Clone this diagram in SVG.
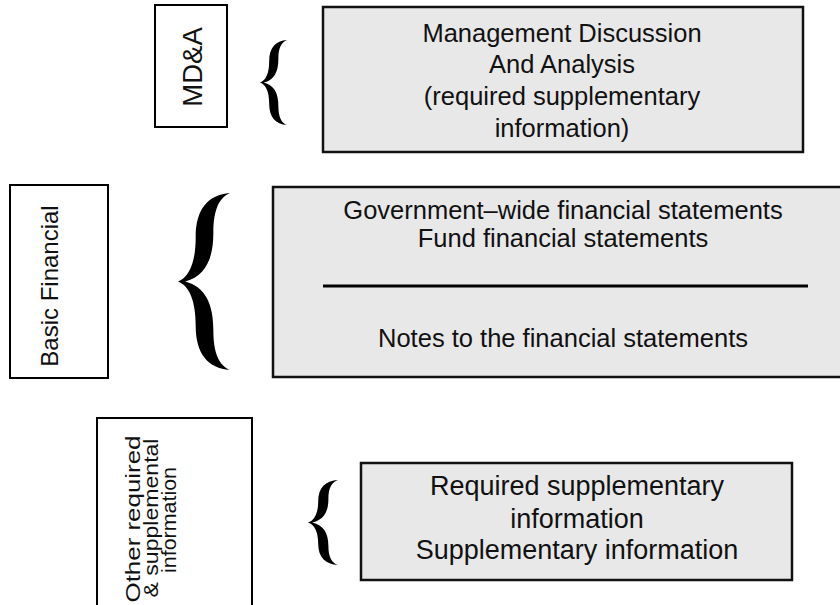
<svg xmlns="http://www.w3.org/2000/svg" width="840" height="605" viewBox="0 0 840 605">
<style>
.lbox{fill:#ffffff;stroke:#000;stroke-width:2}
.rbox{fill:#e8e8e8;stroke:#111;stroke-width:2.5}
.t{font-family:"Liberation Sans",Arial,sans-serif;fill:#111;text-anchor:middle}
.brace{fill:#000}
</style>
<defs>
<path id="br" d="M100,0 C58,2 34,18 34,50 C34,78 22,95 0,100 C22,105 34,122 34,150 C34,182 58,198 100,200 C80,195 68,182 68,155 C68,125 52,106 14,100 C52,94 68,75 68,45 C68,18 80,5 100,0 Z"/>
</defs>
<rect width="840" height="605" fill="#fff"/>
<g id="mda-label">
<rect class="lbox" x="155" y="5" width="72" height="122"/>
<text class="t" font-size="27.5" transform="translate(202,67) rotate(-90)">MD&amp;A</text>
</g>
<g id="mda-box">
<rect class="rbox" x="323" y="7" width="480" height="145"/>
<text class="t" font-size="25.5" x="562" y="42">Management Discussion</text>
<text class="t" font-size="25.5" x="562" y="73">And Analysis</text>
<text class="t" font-size="25.5" x="562" y="105">(required supplementary</text>
<text class="t" font-size="25.5" x="562" y="137">information)</text>
</g>
<g id="basic-label">
<rect class="lbox" x="10" y="185" width="98" height="193"/>
<text class="t" font-size="24" transform="translate(58,286) rotate(-90)">Basic Financial</text>
</g>
<g id="basic-box">
<rect class="rbox" x="273" y="187" width="580" height="190"/>
<text class="t" font-size="25.5" x="563" y="219">Government–wide financial statements</text>
<text class="t" font-size="25.5" x="563" y="247">Fund financial statements</text>
<text class="t" font-size="25.5" x="563" y="347">Notes to the financial statements</text>
</g>
<g id="other-label">
<rect class="lbox" x="97" y="418" width="155" height="195"/>
<text class="t" font-size="21" transform="translate(140,519) rotate(-90)" textLength="167" lengthAdjust="spacingAndGlyphs">Other required</text>
<text class="t" font-size="21" transform="translate(158,518) rotate(-90)" textLength="159" lengthAdjust="spacingAndGlyphs">&amp; supplemental</text>
<text class="t" font-size="21" transform="translate(176,520) rotate(-90)" textLength="106" lengthAdjust="spacingAndGlyphs">information</text>
</g>
<g id="other-box">
<rect class="rbox" x="361" y="463" width="431" height="117"/>
<text class="t" font-size="27" x="577" y="495">Required supplementary</text>
<text class="t" font-size="27" x="577" y="528">information</text>
<text class="t" font-size="27" x="577" y="559">Supplementary information</text>
</g>
<g id="connectors">
<use href="#br" class="brace" transform="translate(260,40) scale(0.27,0.425)"/>
<use href="#br" class="brace" transform="translate(178,193) scale(0.52,0.885)"/>
<use href="#br" class="brace" transform="translate(308,480) scale(0.30,0.425)"/>
<line x1="323" y1="286" x2="808" y2="286" stroke="#000" stroke-width="3"/>
</g>
</svg>
